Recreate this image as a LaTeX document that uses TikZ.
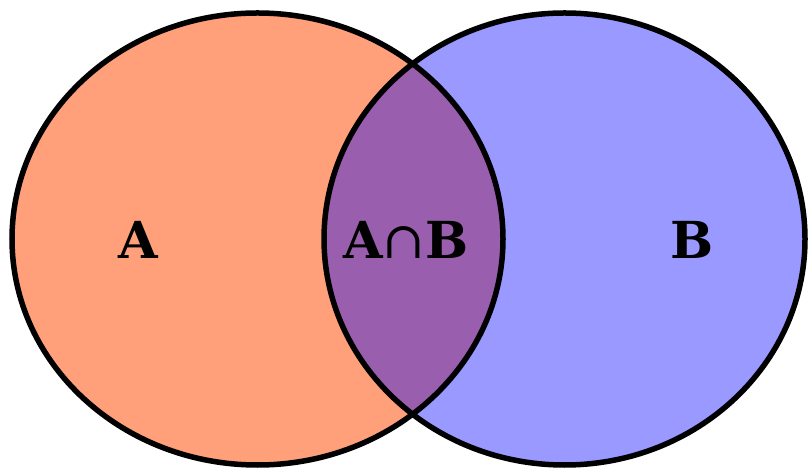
\documentclass[tikz,border=0pt]{standalone}
\usepackage{fontspec}
\setmainfont{DejaVu Serif}
\definecolor{setA}{RGB}{255,160,122}
\definecolor{setB}{RGB}{153,153,255}
\definecolor{setAB}{RGB}{154,94,174}
\begin{document}
\begin{tikzpicture}[x=1pt,y=1pt,
  outline/.style={draw=black,line width=5.5pt},
  lbl/.style={font=\fontsize{51}{53}\selectfont\bfseries,inner sep=0pt}]
\useasboundingbox (0,0) rectangle (810,468);
\def\pathA{(257.5,229) ellipse [x radius=245.5,y radius=226]}
\def\pathB{(564.5,229) ellipse [x radius=240.5,y radius=226]}
\fill[setA] \pathA;
\fill[setB] \pathB;
\begin{scope}
  \clip \pathA;
  \fill[setAB] \pathB;
\end{scope}
\draw[outline] \pathA;
\draw[outline] \pathB;
\node[lbl] (a) at (138,228) {A};
\node[lbl] (ab) at (406,228) {A{\normalfont ∩}B};
\node[lbl] (b) at (692,228) {B};
\end{tikzpicture}
\end{document}
